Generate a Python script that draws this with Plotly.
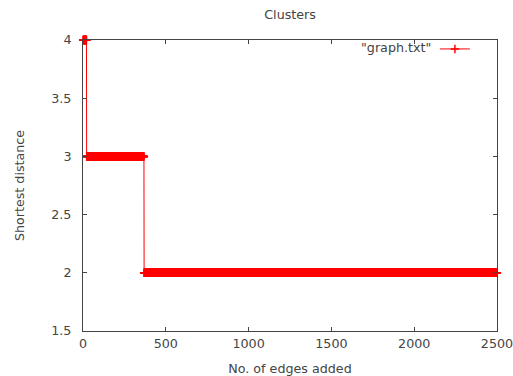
import plotly.graph_objects as go

# Shortest distance stays constant over runs of edges added
run_values = [4, 3, 2]
run_last_edge = [21, 368, 2500]
x_ticks = [0, 500, 1000, 1500, 2000, 2500]
y_ticks = [1.5, 2, 2.5, 3, 3.5, 4]

xs, ys = [], []
start = 1
for v, end in zip(run_values, run_last_edge):
    for e in range(start, end + 1):
        xs.append(e)
        ys.append(v)
    start = end + 1

red = "#ff0000"
fig = go.Figure()
fig.add_trace(go.Scatter(
    x=xs, y=ys, mode="lines+markers", name=" ", cliponaxis=False,
    line=dict(color=red, width=1),
    marker=dict(symbol="cross-thin", size=6, color=red,
                line=dict(color=red, width=1.5)),
))

font = dict(family="DejaVu Sans", size=12.7, color="#444444")
axis_common = dict(showline=True, mirror="ticks", linecolor="#444444", linewidth=1,
                   ticks="inside", ticklen=4, tickcolor="#444444",
                   showgrid=False, zeroline=False, tickfont=font, automargin=False,
                   ticklabeloverflow="allow")
fig.update_layout(
    width=513, height=376,
    margin=dict(l=83, r=16, t=40, b=45),
    plot_bgcolor="white", paper_bgcolor="white",
    font=font,
    title=dict(text="Clusters", x=0.5655, xanchor="center", y=0.96, yanchor="middle",
               font=font),
    xaxis=dict(range=[0, 2500], tickvals=x_ticks, ticklabelstandoff=1, **axis_common,
               title=dict(text="No. of edges added", font=font, standoff=14)),
    yaxis=dict(range=[1.5, 4], tickvals=y_ticks, ticklabelstandoff=8, **axis_common,
               title=dict(text="Shortest distance", font=font, standoff=23)),
    showlegend=True,
    legend=dict(x=0.85, y=1.02, xanchor="left", yanchor="top",
                bgcolor="rgba(0,0,0,0)", font=font, itemwidth=30),
    annotations=[dict(text='"graph.txt"', x=0.845, y=0.975, xref="paper", yref="paper",
                      xanchor="right", yanchor="middle", showarrow=False, font=font)],
)
fig.write_html("out.html")
